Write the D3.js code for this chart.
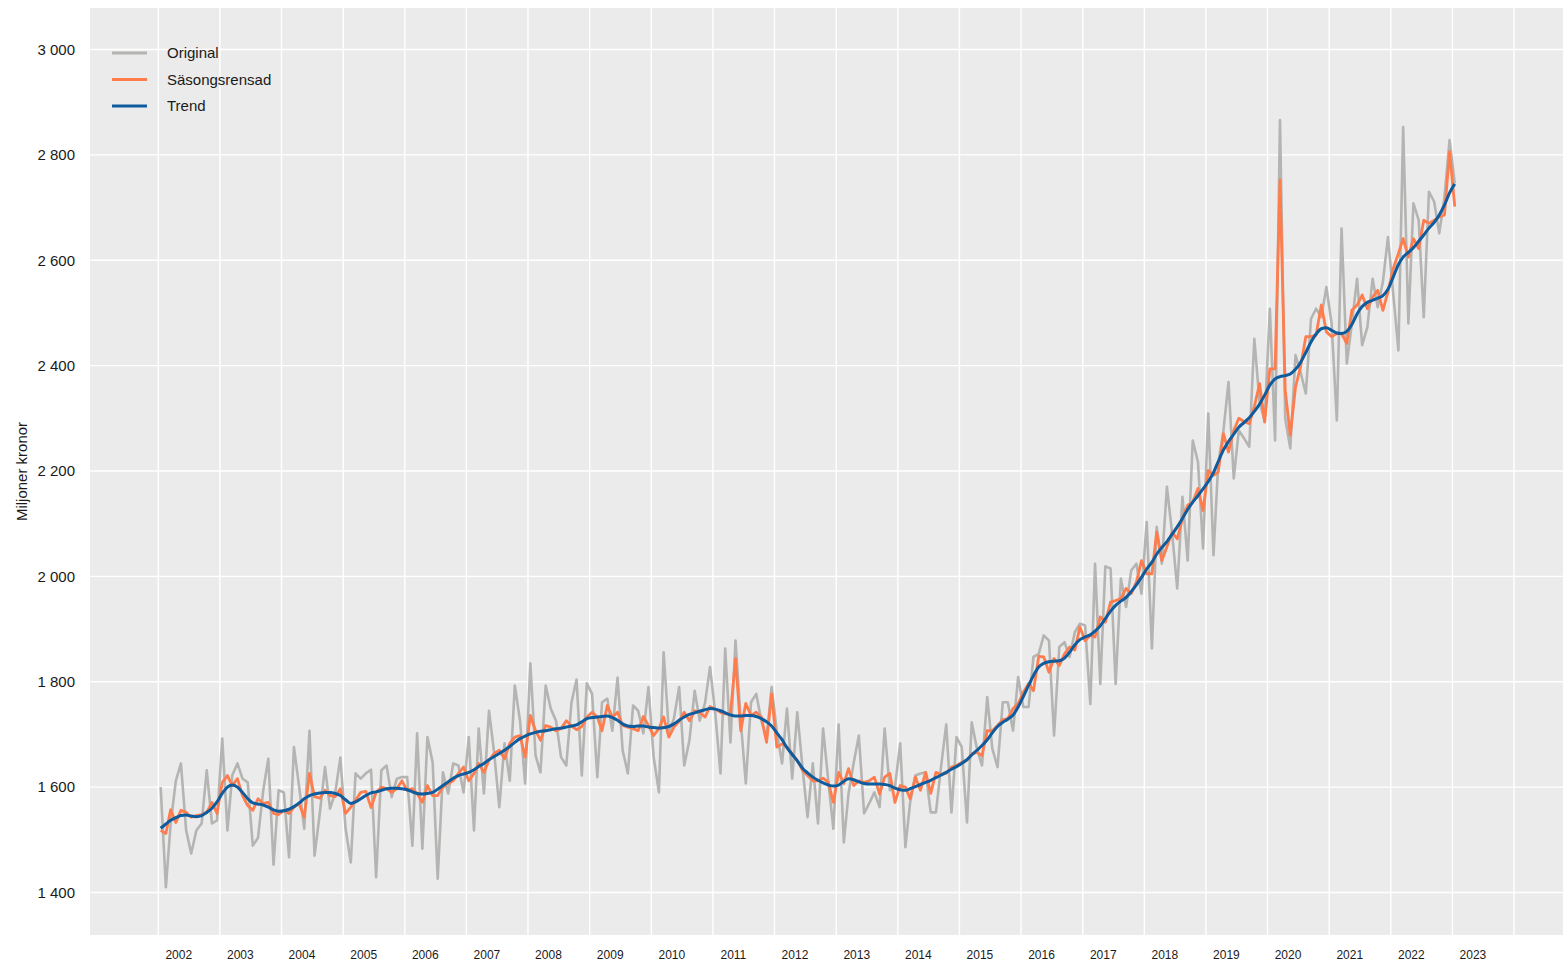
<!DOCTYPE html>
<html>
<head>
<meta charset="utf-8">
<script src="https://cdn.jsdelivr.net/npm/d3@7"></script>
<style>
  body { margin: 0; background: #ffffff; }
  svg { display: block; font-family: "Liberation Sans", Arial, sans-serif; }
</style>
</head>
<body>
<svg id="chart" width="1563" height="961"></svg>
<script>
// Monthly series, January 2002 to January 2023 (one line per year)
var startYear = 2002;

var original = [
  1600,1410,1530,1612,1645,1518,1474,1518,1531,1632,1531,1537,
  1692,1518,1622,1645,1616,1609,1489,1504,1594,1654,1453,1594,
  1590,1467,1676,1600,1521,1707,1470,1550,1638,1559,1590,1656,
  1521,1457,1626,1616,1626,1633,1429,1632,1641,1581,1616,1619,
  1619,1489,1702,1483,1695,1647,1426,1628,1588,1645,1641,1590,
  1695,1518,1711,1588,1745,1664,1562,1683,1612,1793,1726,1607,
  1835,1660,1628,1793,1749,1726,1657,1641,1761,1804,1622,1797,
  1777,1619,1761,1768,1707,1808,1670,1626,1755,1745,1702,1790,
  1657,1590,1856,1705,1730,1790,1641,1689,1783,1726,1759,1828,
  1740,1626,1863,1685,1878,1726,1607,1761,1777,1726,1692,1790,
  1705,1645,1749,1616,1742,1638,1543,1645,1531,1711,1612,1521,
  1719,1495,1588,1647,1698,1550,1569,1590,1562,1711,1594,1600,
  1683,1486,1571,1622,1626,1628,1552,1552,1641,1719,1552,1695,
  1676,1533,1723,1673,1641,1771,1673,1638,1761,1761,1707,1809,
  1752,1752,1847,1853,1888,1878,1698,1866,1875,1847,1894,1910,
  1907,1758,2024,1796,2019,2015,1796,1996,1942,2011,2024,1967,
  2103,1863,2094,2024,2170,2081,1977,2151,2030,2258,2217,2053,
  2309,2040,2214,2277,2369,2186,2277,2262,2246,2451,2330,2295,
  2508,2258,2866,2300,2243,2420,2388,2347,2489,2508,2492,2549,
  2480,2296,2660,2404,2480,2565,2439,2473,2565,2511,2559,2644,
  2537,2429,2853,2480,2708,2676,2492,2730,2711,2651,2720,2828,
  2746
];

var seasonal = [
  1518,1512,1557,1533,1556,1552,1543,1546,1548,1552,1571,1550,
  1609,1622,1603,1616,1584,1565,1556,1578,1569,1571,1550,1548,
  1556,1550,1562,1568,1543,1626,1582,1579,1594,1584,1582,1597,
  1550,1562,1575,1590,1592,1561,1590,1600,1597,1590,1597,1612,
  1594,1597,1588,1571,1603,1584,1584,1600,1607,1612,1626,1638,
  1612,1626,1645,1628,1651,1664,1670,1654,1683,1695,1698,1657,
  1736,1707,1689,1717,1714,1707,1711,1726,1716,1709,1715,1733,
  1742,1733,1707,1755,1733,1742,1717,1714,1711,1707,1734,1717,
  1698,1711,1733,1695,1714,1725,1742,1726,1745,1742,1733,1753,
  1748,1742,1739,1739,1844,1707,1759,1736,1742,1733,1685,1777,
  1676,1682,1676,1663,1651,1632,1622,1612,1612,1617,1609,1571,
  1628,1607,1635,1603,1612,1609,1612,1619,1587,1619,1626,1571,
  1603,1600,1578,1619,1594,1628,1588,1628,1624,1626,1638,1641,
  1647,1651,1663,1666,1660,1707,1707,1717,1728,1730,1749,1758,
  1780,1797,1783,1848,1847,1818,1844,1831,1853,1866,1860,1904,
  1878,1888,1885,1923,1913,1951,1954,1958,1977,1967,1989,2030,
  2005,2005,2084,2030,2056,2084,2071,2110,2135,2141,2167,2125,
  2201,2192,2198,2271,2236,2277,2300,2294,2290,2322,2366,2293,
  2394,2394,2752,2353,2268,2359,2398,2455,2455,2458,2515,2464,
  2455,2461,2461,2442,2505,2515,2534,2508,2530,2543,2505,2540,
  2584,2613,2641,2606,2641,2622,2676,2670,2676,2682,2686,2806,
  2702
];

var trend = [
  1522,1530,1537,1542,1546,1547,1545,1544,1546,1552,1560,1572,
  1588,1600,1604,1600,1590,1578,1570,1568,1566,1562,1557,1554,
  1555,1558,1563,1570,1578,1584,1587,1589,1590,1590,1588,1584,
  1576,1569,1572,1578,1584,1589,1591,1594,1597,1598,1598,1597,
  1595,1591,1588,1587,1588,1590,1596,1603,1610,1617,1622,1625,
  1628,1633,1639,1645,1652,1658,1664,1670,1677,1685,1692,1697,
  1701,1704,1706,1707,1709,1711,1712,1714,1716,1718,1724,1730,
  1732,1733,1734,1735,1732,1727,1720,1716,1715,1716,1716,1714,
  1713,1712,1713,1715,1720,1727,1733,1738,1741,1744,1747,1749,
  1748,1745,1741,1737,1735,1735,1736,1736,1734,1730,1724,1716,
  1703,1690,1675,1662,1650,1636,1627,1619,1613,1608,1604,1602,
  1604,1611,1616,1614,1610,1607,1606,1606,1606,1605,1603,1598,
  1595,1594,1597,1601,1605,1609,1613,1618,1623,1628,1634,1639,
  1645,1652,1661,1670,1679,1690,1703,1715,1723,1729,1737,1752,
  1772,1793,1812,1828,1835,1838,1839,1840,1845,1856,1870,1880,
  1885,1889,1896,1906,1920,1934,1945,1953,1960,1971,1984,1998,
  2014,2027,2042,2055,2066,2080,2094,2110,2127,2141,2153,2166,
  2180,2197,2218,2240,2256,2270,2283,2292,2301,2313,2327,2344,
  2363,2375,2379,2381,2384,2393,2406,2425,2445,2460,2470,2472,
  2467,2462,2461,2465,2478,2498,2512,2520,2524,2528,2533,2545,
  2568,2592,2606,2615,2624,2636,2648,2661,2672,2686,2705,2728,
  2745
];

var yTicks = [1400, 1600, 1800, 2000, 2200, 2400, 2600, 2800, 3000];
var xYears = d3.range(2002, 2024);      // labelled years
var xGridYears = d3.range(2002, 2025);  // vertical grid lines

var seriesNames = ["Original", "Säsongsrensad", "Trend"];
var seriesColors = ["#b4b4b2", "#ff7c4c", "#0e5c9e"];
var seriesWidths = [2.6, 2.8, 3];

// Layout
var panel = { left: 90, top: 8, right: 1563, bottom: 935 };

var svg = d3.select("#chart");

var dates = original.map(function (d, i) {
    return new Date(Date.UTC(startYear, i, 15));
});

var x = d3.scaleUtc()
    .domain([new Date(Date.UTC(2002, 0, 1)), new Date(Date.UTC(2024, 0, 1))])
    .range([158.3, 1514]);

var y = d3.scaleLinear()
    .domain([1400, 3000])
    .range([892.5, 49.5]);

// Panel background
svg.append("rect")
    .attr("x", panel.left)
    .attr("y", panel.top)
    .attr("width", panel.right - panel.left)
    .attr("height", panel.bottom - panel.top)
    .attr("fill", "#ebebeb");

// Grid lines
var grid = svg.append("g").attr("class", "grid");
grid.selectAll(".hgrid")
    .data(yTicks)
    .enter()
    .append("line")
        .attr("x1", panel.left)
        .attr("x2", panel.right)
        .attr("y1", function (d) { return y(d); })
        .attr("y2", function (d) { return y(d); })
        .attr("stroke", "#ffffff")
        .attr("stroke-width", 1.4);
grid.selectAll(".vgrid")
    .data(xGridYears)
    .enter()
    .append("line")
        .attr("x1", function (d) { return x(new Date(Date.UTC(d, 0, 1))); })
        .attr("x2", function (d) { return x(new Date(Date.UTC(d, 0, 1))); })
        .attr("y1", panel.top)
        .attr("y2", panel.bottom)
        .attr("stroke", "#ffffff")
        .attr("stroke-width", 1.4);

// Y axis labels
var yAxis = d3.axisLeft(y)
    .tickValues(yTicks)
    .tickSize(0)
    .tickPadding(0)
    .tickFormat(function (d) { return d3.format(",")(d).replace(",", " "); });
svg.append("g")
    .attr("transform", "translate(75,0)")
    .call(yAxis)
    .call(function (g) { g.select(".domain").remove(); })
    .selectAll("text")
        .attr("font-size", "15px")
        .attr("font-family", "'Liberation Sans', Arial, sans-serif")
        .attr("fill", "#1a1a1a");

// X axis labels (placed a little right of each year line)
var xAxis = d3.axisBottom(x)
    .tickValues(xYears.map(function (d) { return new Date(Date.UTC(d, 0, 1)); }))
    .tickSize(0)
    .tickPadding(0)
    .tickFormat(d3.utcFormat("%Y"));
svg.append("g")
    .attr("transform", "translate(0,950)")
    .call(xAxis)
    .call(function (g) { g.select(".domain").remove(); })
    .selectAll("text")
        .attr("x", 20)
        .attr("font-size", "12px")
        .attr("font-family", "'Liberation Sans', Arial, sans-serif")
        .attr("fill", "#1a1a1a");

// Y axis title
svg.append("text")
    .attr("transform", "translate(27," + ((panel.top + panel.bottom) / 2) + ") rotate(-90)")
    .attr("text-anchor", "middle")
    .attr("font-size", "15px")
    .attr("fill", "#1a1a1a")
    .text("Miljoner kronor");

// Lines
var lineLinear = d3.line()
    .x(function (d, i) { return x(dates[i]); })
    .y(function (d) { return y(d); });
var lineSmooth = d3.line()
    .curve(d3.curveMonotoneX)
    .x(function (d, i) { return x(dates[i]); })
    .y(function (d) { return y(d); });

var allSeries = [original, seasonal, trend];
allSeries.forEach(function (s, k) {
    svg.append("path")
        .datum(s)
        .attr("fill", "none")
        .attr("stroke", seriesColors[k])
        .attr("stroke-width", seriesWidths[k])
        .attr("stroke-linejoin", "round")
        .attr("d", k == 2 ? lineSmooth : lineLinear);
});

// Legend
var legend = svg.append("g").attr("class", "legend");
var entries = legend.selectAll("g")
    .data(seriesNames)
    .enter()
    .append("g")
        .attr("transform", function (d, i) { return "translate(112," + (53 + i * 26.5) + ")"; });
entries.append("line")
    .attr("x1", 0)
    .attr("x2", 35)
    .attr("stroke", function (d, i) { return seriesColors[i]; })
    .attr("stroke-width", 3);
entries.append("text")
    .attr("x", 55)
    .attr("dy", "0.35em")
    .attr("font-size", "15px")
    .attr("fill", "#1a1a1a")
    .text(function (d) { return d; });
</script>
</body>
</html>
